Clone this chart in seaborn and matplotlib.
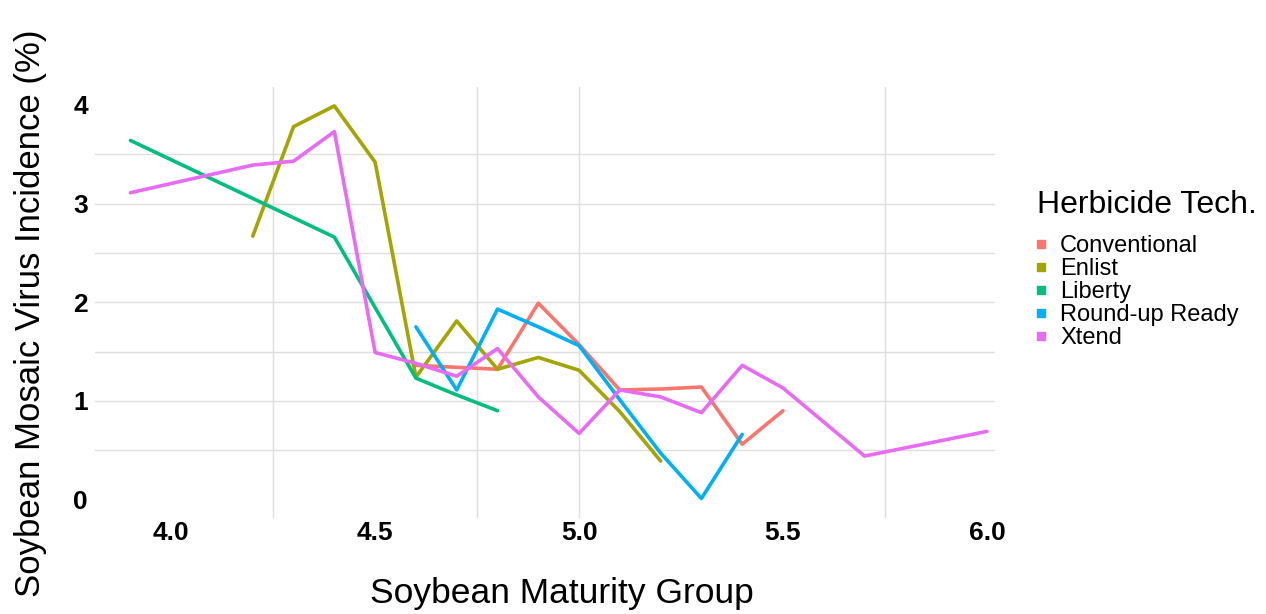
import pandas as pd
import matplotlib
matplotlib.use("Agg")
import matplotlib.pyplot as plt
from matplotlib.lines import Line2D
import seaborn as sns

# values
techs = ["Conventional", "Enlist", "Liberty", "Round-up Ready", "Xtend"]
colors = ["#F8766D", "#A3A500", "#00BF7D", "#00B0F6", "#E76BF3"]

mg_conv = [4.6, 4.7, 4.8, 4.9, 5.0, 5.1, 5.2, 5.3, 5.4, 5.5]
smv_conv = [1.36, 1.34, 1.32, 1.99, 1.57, 1.11, 1.12, 1.14, 0.56, 0.90]

mg_enlist = [4.2, 4.3, 4.4, 4.5, 4.6, 4.7, 4.8, 4.9, 5.0, 5.1, 5.2]
smv_enlist = [2.67, 3.78, 3.99, 3.42, 1.24, 1.81, 1.32, 1.44, 1.31, 0.89, 0.39]

mg_liberty = [3.9, 4.4, 4.6, 4.7, 4.8]
smv_liberty = [3.64, 2.66, 1.23, 1.06, 0.90]

mg_rr = [4.6, 4.7, 4.8, 4.9, 5.0, 5.1, 5.2, 5.3, 5.4]
smv_rr = [1.75, 1.11, 1.93, 1.75, 1.56, 1.01, 0.47, 0.01, 0.66]

mg_xtend = [3.9, 4.2, 4.3, 4.4, 4.5, 4.6, 4.7, 4.8, 4.9, 5.0, 5.1, 5.2, 5.3,
            5.4, 5.5, 5.7, 6.0]
smv_xtend = [3.11, 3.39, 3.43, 3.73, 1.49, 1.38, 1.25, 1.53, 1.04, 0.67, 1.11,
             1.04, 0.88, 1.36, 1.13, 0.44, 0.69]

x_ticks = [4.0, 4.5, 5.0, 5.5, 6.0]
y_ticks = [0, 1, 2, 3, 4]

series = {
    "Conventional": (mg_conv, smv_conv),
    "Enlist": (mg_enlist, smv_enlist),
    "Liberty": (mg_liberty, smv_liberty),
    "Round-up Ready": (mg_rr, smv_rr),
    "Xtend": (mg_xtend, smv_xtend),
}
frames = [pd.DataFrame({"mg": xs, "smv": ys, "tech": name})
          for name, (xs, ys) in series.items()]
df = pd.concat(frames, ignore_index=True)

sns.set_style("white")
plt.rcParams["font.family"] = ["Liberation Sans", "DejaVu Sans"]
plt.rcParams["text.color"] = "black"
plt.rcParams["axes.labelcolor"] = "black"
plt.rcParams["xtick.color"] = "black"
plt.rcParams["ytick.color"] = "black"

fig = plt.figure(figsize=(12.66, 6.14), dpi=100)
ax = fig.add_axes([0.075, 0.156, 0.711, 0.702])

sns.lineplot(data=df, x="mg", y="smv", hue="tech", hue_order=techs,
             palette=colors, linewidth=2.6, legend=False, ax=ax, sort=True)

ax.set_xlim(3.813, 6.02)
ax.set_ylim(-0.19, 4.18)
ax.set_xticks(x_ticks)
ax.set_xticklabels([f"{v:.1f}" for v in x_ticks])
ax.set_yticks(y_ticks)
ax.xaxis.remove_overlapping_locs = False
ax.yaxis.remove_overlapping_locs = False
ax.set_xticks([4.25, 4.75, 5.0, 5.75], minor=True)
ax.set_yticks([0.5, 1.0, 1.5, 2.0, 2.5, 3.0, 3.5], minor=True)
ax.grid(False)
ax.grid(which="minor", color="#dedede", linewidth=1.0)
ax.set_axisbelow(True)
for s in ax.spines.values():
    s.set_visible(False)
ax.tick_params(which="both", length=0)
ax.tick_params(axis="x", pad=2, labelsize=19)
ax.tick_params(axis="y", pad=5, labelsize=19)
for lab in ax.get_xticklabels() + ax.get_yticklabels():
    lab.set_fontweight("bold")

ax.set_xlabel("Soybean Maturity Group", fontsize=25.5, labelpad=23)
ax.xaxis.label.set_x(0.519)
ax.set_ylabel("Soybean Mosaic Virus Incidence (%)", fontsize=25, labelpad=19)
ax.yaxis.label.set_y(0.476)

fig.text(1037 / 1266, 1 - 205 / 614, "Herbicide Tech.", fontsize=23,
         ha="left", va="center")
handles = [Line2D([], [], marker="s", linestyle="none", markersize=6,
                  markerfacecolor=c, markeredgecolor=c) for c in colors]
leg = fig.legend(handles, techs, loc="upper left",
                 bbox_to_anchor=(1034 / 1266, 1 - 235 / 614), frameon=False,
                 fontsize=17, handlelength=0.6, handletextpad=0.5,
                 labelspacing=0.04, borderaxespad=0, borderpad=0)

fig.savefig("out.png", dpi=100)
